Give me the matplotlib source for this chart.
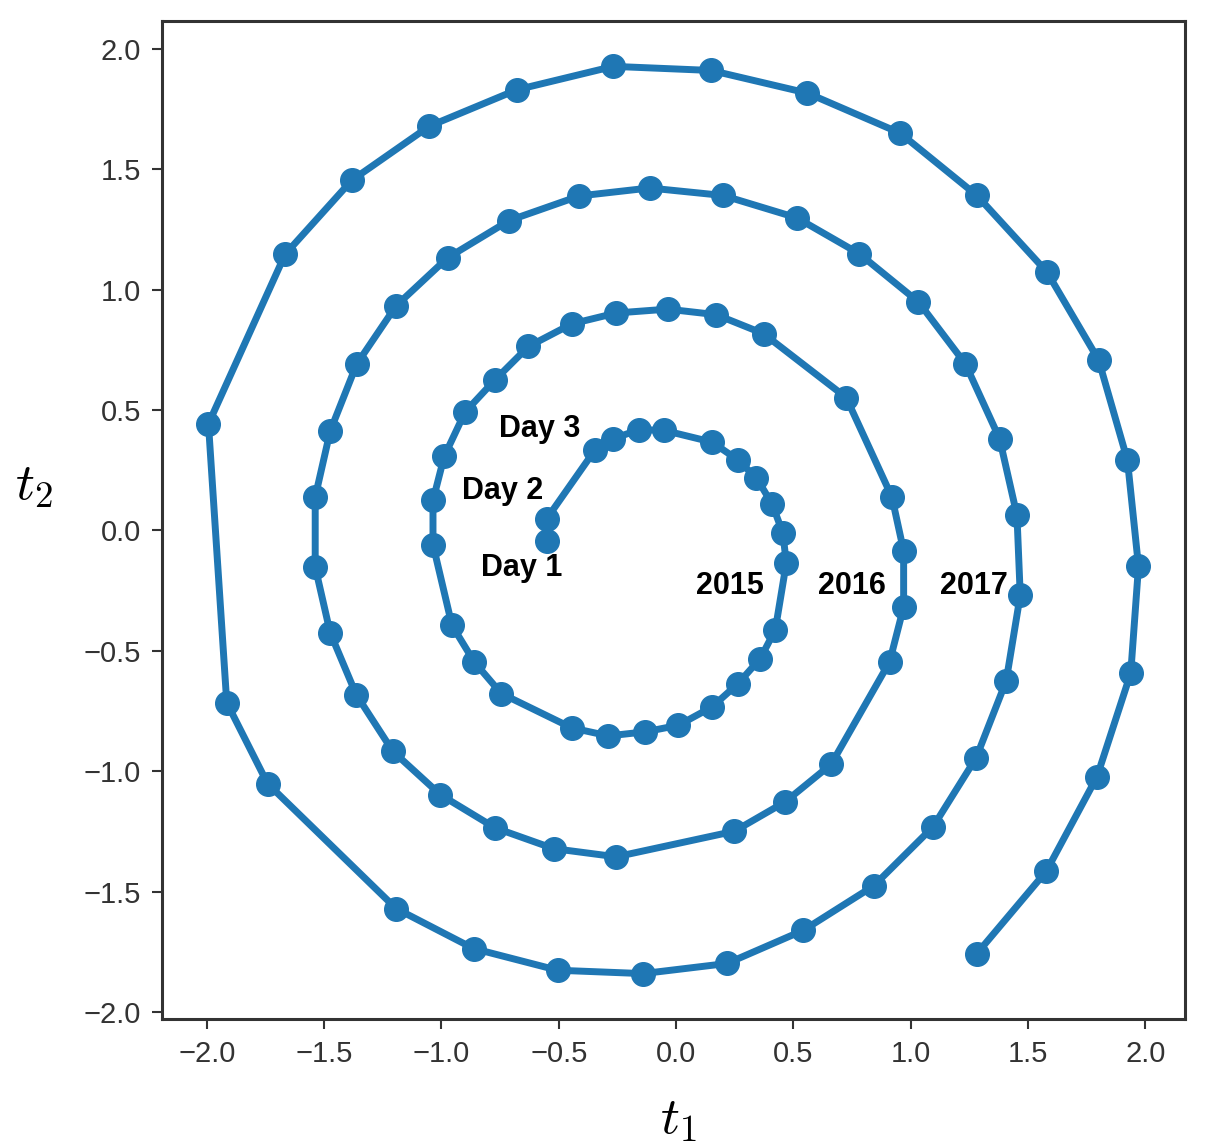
import matplotlib
matplotlib.use("Agg")
import matplotlib.pyplot as plt

t1 = [-0.551, -0.551, -0.345, -0.267, -0.160, -0.053, 0.153, 0.262, 0.342, 0.409,
      0.455, 0.470, 0.423, 0.359, 0.263, 0.153, 0.010, -0.131, -0.288, -0.444,
      -0.745, -0.860, -0.955, -1.036, -1.036, -0.988, -0.899, -0.771, -0.629, -0.444,
      -0.255, -0.036, 0.171, 0.373, 0.725, 0.920, 0.970, 0.970, 0.910, 0.661,
      0.465, 0.248, -0.255, -0.522, -0.771, -1.005, -1.207, -1.363, -1.474, -1.538,
      -1.538, -1.474, -1.361, -1.193, -0.974, -0.711, -0.412, -0.113, 0.200, 0.515,
      0.781, 1.033, 1.233, 1.379, 1.453, 1.467, 1.407, 1.279, 1.095, 0.842,
      0.543, 0.217, -0.141, -0.505, -0.863, -1.193, -1.741, -1.915, -1.993, -1.666,
      -1.382, -1.051, -0.678, -0.267, 0.150, 0.560, 0.955, 1.282, 1.581, 1.801,
      1.924, 1.971, 1.938, 1.794, 1.578, 1.282]
t2 = [-0.044, 0.049, 0.335, 0.381, 0.418, 0.416, 0.367, 0.294, 0.219, 0.111,
      -0.010, -0.135, -0.412, -0.532, -0.637, -0.733, -0.809, -0.836, -0.853, -0.820,
      -0.677, -0.546, -0.394, -0.059, 0.125, 0.308, 0.492, 0.626, 0.764, 0.858,
      0.903, 0.919, 0.896, 0.817, 0.552, 0.139, -0.085, -0.318, -0.546, -0.971,
      -1.127, -1.249, -1.355, -1.321, -1.235, -1.097, -0.917, -0.682, -0.425, -0.152,
      0.139, 0.413, 0.691, 0.933, 1.132, 1.287, 1.389, 1.422, 1.391, 1.298,
      1.149, 0.949, 0.692, 0.381, 0.063, -0.269, -0.625, -0.944, -1.231, -1.476,
      -1.660, -1.798, -1.840, -1.826, -1.736, -1.570, -1.051, -0.715, 0.443, 1.147,
      1.454, 1.679, 1.830, 1.927, 1.910, 1.816, 1.650, 1.391, 1.073, 0.708,
      0.291, -0.149, -0.592, -1.023, -1.415, -1.757]

labels = ["Day 1", "Day 2", "Day 3", "2015", "2016", "2017"]
label_x = [-0.66, -0.74, -0.58, 0.23, 0.75, 1.27]
label_y = [-0.155, 0.165, 0.42, -0.23, -0.23, -0.23]

plt.rcParams['mathtext.fontset'] = 'cm'
plt.rcParams['font.family'] = ['Liberation Sans', 'DejaVu Sans']

fig = plt.figure(figsize=(12.05, 11.48), dpi=100)
ax = fig.add_axes([0.1344, 0.1124, 0.849, 0.8693])

ax.plot(t1, t2, '-o', color='#1f77b4', lw=5, markersize=17)

for s, x, y in zip(labels, label_x, label_y):
    ax.text(x, y, s, fontsize=22, fontweight='bold', ha='center', va='center', color='black')

ax.set_xticks([-2.0, -1.5, -1.0, -0.5, 0.0, 0.5, 1.0, 1.5, 2.0])
ax.set_yticks([-2.0, -1.5, -1.0, -0.5, 0.0, 0.5, 1.0, 1.5, 2.0])
ax.tick_params(labelsize=21, labelcolor='#333333', color='#333333', length=7, width=1.5, pad=8)
for sp in ax.spines.values():
    sp.set_linewidth(2.2)
    sp.set_color('#333333')

ax.set_xlabel(r'$t_1$', fontsize=38)
ax.xaxis.set_label_coords(0.505, -0.075)
ax.set_ylabel(r'$t_2$', fontsize=38, rotation=0)
ax.yaxis.set_label_coords(-0.125, 0.51)

fig.savefig('out.png', dpi=100)
